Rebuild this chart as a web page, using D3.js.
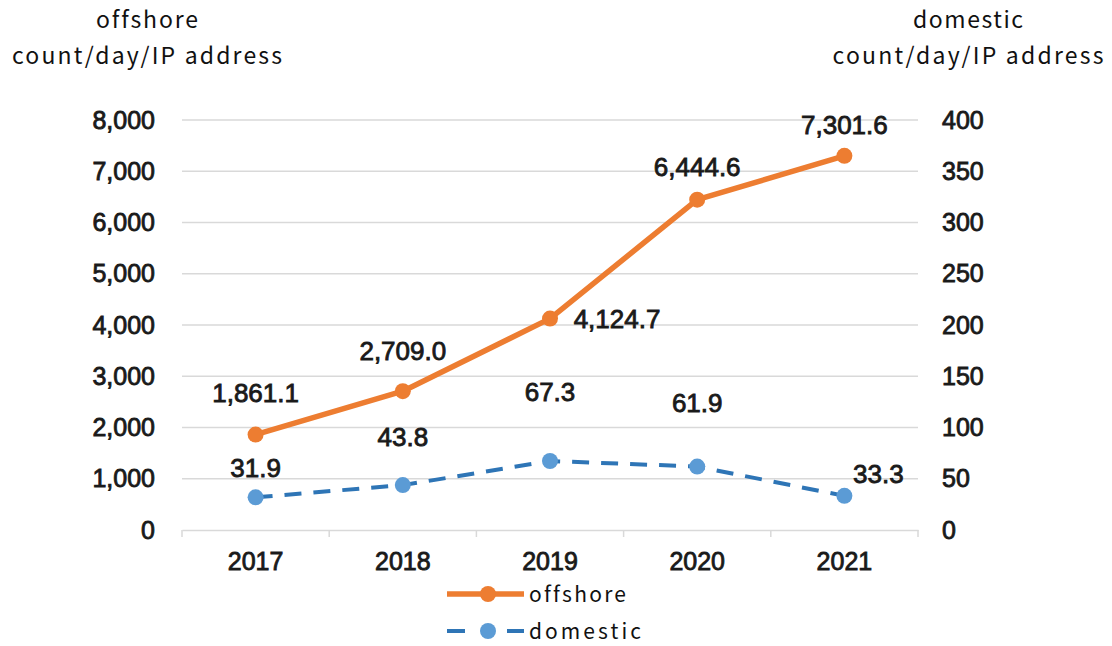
<!DOCTYPE html>
<html>
<head>
<meta charset="utf-8">
<script src="https://cdn.jsdelivr.net/npm/d3@7"></script>
<style>
  html, body { margin: 0; padding: 0; background: #fff; }
  svg { display: block; }
  text { font-variant-ligatures: none; }
</style>
</head>
<body>
<svg id="chart" width="1112" height="646"></svg>
<script>
// Yearly counts per IP address
const years = ["2017", "2018", "2019", "2020", "2021"];
const offshore = [1861.1, 2709.0, 4124.7, 6444.6, 7301.6];
const domestic = [31.9, 43.8, 67.3, 61.9, 33.3];
const leftTicks = [0, 1000, 2000, 3000, 4000, 5000, 6000, 7000, 8000];
const rightTicks = [0, 50, 100, 150, 200, 250, 300, 350, 400];

const svg = d3.select("#chart");
const M = { left: 182, right: 918, top: 120, bottom: 530 };

const x = d3.scaleBand().domain(years).range([M.left, M.right]);
const yL = d3.scaleLinear().domain([0, 8000]).range([M.bottom, M.top]);
const yR = d3.scaleLinear().domain([0, 400]).range([M.bottom, M.top]);

const numFont = "'Liberation Sans', Arial, sans-serif";
const titleFont = "'Noto Sans CJK JP', 'Noto Sans', sans-serif";
const ink = "#1a1a1a";
const orange = "#ED7D31";
const blueLine = "#2E75B6";
const blueDot = "#5B9BD5";
const grid = "#d9d9d9";

// slightly heavier than regular weight for numbers
const numStyle = (s, size) => s.attr("font-family", numFont).attr("font-size", size)
  .attr("fill", ink).attr("stroke", ink).attr("stroke-width", 0.85);

// horizontal gridlines
svg.append("g").selectAll("line").data(leftTicks.filter(d => d > 0)).join("line")
  .attr("x1", M.left).attr("x2", M.right)
  .attr("y1", d => yL(d)).attr("y2", d => yL(d))
  .attr("stroke", grid).attr("stroke-width", 1.5);

// category axis
const xAxis = svg.append("g").attr("transform", `translate(0,${M.bottom})`)
  .call(d3.axisBottom(x).tickSize(0).tickPadding(22));
xAxis.select(".domain").attr("stroke", grid).attr("stroke-width", 1.5);
xAxis.selectAll("text").attr("dy", null).attr("y", 40).call(numStyle, 25);
const bounds = years.map(d => x(d)).concat([M.right]);
xAxis.selectAll("line.bound").data(bounds).join("line").attr("class", "bound")
  .attr("x1", d => d).attr("x2", d => d).attr("y1", 0).attr("y2", 7)
  .attr("stroke", grid).attr("stroke-width", 1.5);

// value axes
const leftAxis = svg.append("g").attr("transform", `translate(${M.left - 8},0)`)
  .call(d3.axisLeft(yL).tickValues(leftTicks).tickSize(0).tickPadding(19).tickFormat(d3.format(",")));
const rightAxis = svg.append("g").attr("transform", `translate(${M.right + 8},0)`)
  .call(d3.axisRight(yR).tickValues(rightTicks).tickSize(0).tickPadding(16));
[leftAxis, rightAxis].forEach(a => {
  a.select(".domain").remove();
  a.selectAll("text").call(numStyle, 25);
});

// axis titles
const titles = [
  { x: 147, lines: [["offshore", 102], ["count/day/IP address", 270]] },
  { x: 968, lines: [["domestic", 110], ["count/day/IP address", 271]] }
];
titles.forEach(t => {
  t.lines.forEach(([s, w], i) => {
    svg.append("text").attr("x", t.x - w / 2).attr("y", 28 + i * 36)
      .attr("font-family", titleFont).attr("font-size", 23).attr("fill", "#111")
      .attr("textLength", w).attr("lengthAdjust", "spacing").text(s);
  });
});

const cx = d => x(d) + x.bandwidth() / 2;

// offshore series
svg.append("path").datum(offshore)
  .attr("d", d3.line().x((d, i) => cx(years[i])).y(d => yL(d)))
  .attr("fill", "none").attr("stroke", orange).attr("stroke-width", 5.5)
  .attr("stroke-linejoin", "round");
svg.append("g").selectAll("circle").data(offshore).join("circle")
  .attr("cx", (d, i) => cx(years[i])).attr("cy", d => yL(d)).attr("r", 8)
  .attr("fill", orange);

// domestic series
svg.append("path").datum(domestic)
  .attr("d", d3.line().x((d, i) => cx(years[i])).y(d => yR(d)))
  .attr("fill", "none").attr("stroke", blueLine).attr("stroke-width", 4)
  .attr("stroke-dasharray", "17,12");
svg.append("g").selectAll("circle").data(domestic).join("circle")
  .attr("cx", (d, i) => cx(years[i])).attr("cy", d => yR(d)).attr("r", 8)
  .attr("fill", blueDot);

// value labels: [dx, baseline dy] offset from point
const offOffsets = [[0, -33], [0, -31], [67, 9], [0, -24], [0, -22]];
const domOffsets = [[0, -20], [0, -39], [0, -60], [0, -55], [34, -13]];
const fmt1 = d3.format(",.1f");
svg.append("g").selectAll("text").data(offshore).join("text")
  .attr("x", (d, i) => cx(years[i]) + offOffsets[i][0])
  .attr("y", (d, i) => yL(d) + offOffsets[i][1])
  .attr("text-anchor", "middle").call(numStyle, 26).text(d => fmt1(d));
svg.append("g").selectAll("text").data(domestic).join("text")
  .attr("x", (d, i) => cx(years[i]) + domOffsets[i][0])
  .attr("y", (d, i) => yR(d) + domOffsets[i][1])
  .attr("text-anchor", "middle").call(numStyle, 26).text(d => fmt1(d));

// legend
const legend = [
  { name: "offshore", y: 594, w: 97, color: orange, dot: orange, dashed: false, sw: 5.5 },
  { name: "domestic", y: 631, w: 112, color: blueLine, dot: blueDot, dashed: true, sw: 4 }
];
legend.forEach(l => {
  svg.append("line").attr("x1", 447).attr("x2", 524).attr("y1", l.y).attr("y2", l.y)
    .attr("stroke", l.color).attr("stroke-width", l.sw)
    .attr("stroke-dasharray", l.dashed ? "18,42" : null);
  if (l.dashed) {
    svg.append("line").attr("x1", 507).attr("x2", 524).attr("y1", l.y).attr("y2", l.y)
      .attr("stroke", l.color).attr("stroke-width", l.sw);
  }
  svg.append("circle").attr("cx", 488).attr("cy", l.y).attr("r", 8).attr("fill", l.dot);
  svg.append("text").attr("x", 529).attr("y", l.y + 8).attr("font-family", titleFont)
    .attr("font-size", 21).attr("fill", "#111")
    .attr("textLength", l.w).attr("lengthAdjust", "spacing").text(l.name);
});
</script>
</body>
</html>
